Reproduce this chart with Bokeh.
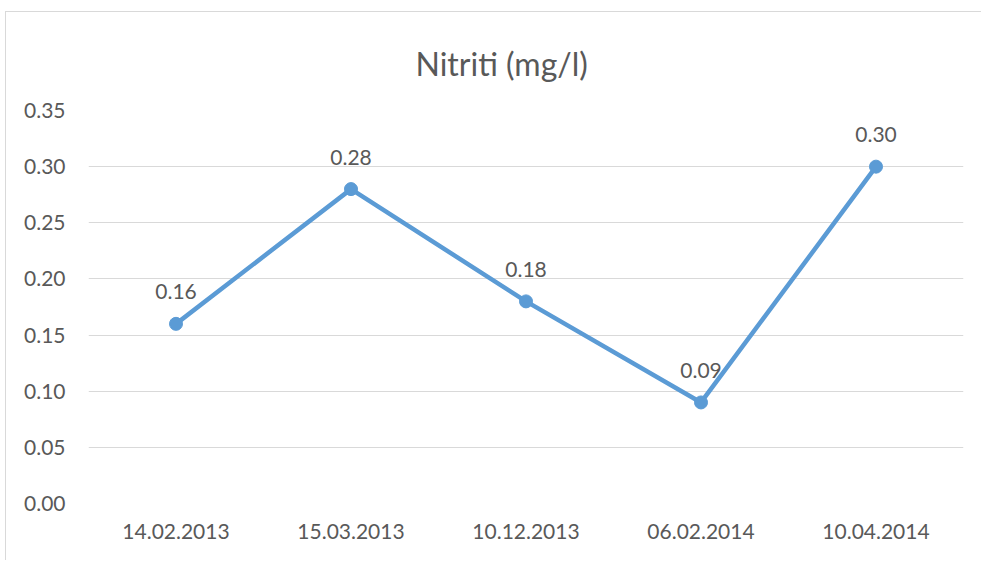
from bokeh.plotting import figure
from bokeh.models import Range1d, FactorRange, ColumnDataSource, LabelSet, FixedTicker, NumeralTickFormatter
from bokeh.core.properties import value
from bokeh.embed import file_html
from bokeh.resources import INLINE

title_text = "Nitriti (mg/l)"
dates = ["14.02.2013", "15.03.2013", "10.12.2013", "06.02.2014", "10.04.2014"]
values = [0.16, 0.28, 0.18, 0.09, 0.30]
labels = ["0.16", "0.28", "0.18", "0.09", "0.30"]
y_ticks = [0.0, 0.05, 0.10, 0.15, 0.20, 0.25, 0.30, 0.35]

FONT = "Lato"
TXT = "#595959"
BLUE = "#5b9bd5"
GRID = "#d9d9d9"

src = ColumnDataSource(dict(x=dates, y=values, lab=labels))

p = figure(width=976, height=549, x_range=FactorRange(*dates), y_range=Range1d(0, 0.35),
           output_backend="svg", toolbar_location=None, title=title_text,
           min_border_left=82, min_border_right=19, min_border_top=98, min_border_bottom=58)
p.styles = {"margin-left": "5px", "margin-top": "11px",
            "border-left": "1px solid #d9d9d9", "border-top": "1px solid #d9d9d9"}
p.outline_line_color = None
p.background_fill_color = "white"
p.border_fill_color = "white"

p.title.align = "left"
p.title.offset = 327
p.title.text_font = FONT
p.title.text_font_size = "32px"
p.title.text_font_style = "normal"
p.title.text_color = TXT
p.title.standoff = 56

p.line("x", "y", source=src, line_color=BLUE, line_width=4.5)
p.scatter("x", "y", source=src, size=13, fill_color=BLUE, line_color=BLUE)

ls = LabelSet(x="x", y="y", text="lab", source=src, text_align="center", text_baseline="middle",
              y_offset=32, text_font=value(FONT), text_font_size=value("21px"), text_color=value(TXT))
p.add_layout(ls)

p.yaxis.ticker = FixedTicker(ticks=y_ticks)
p.yaxis.formatter = NumeralTickFormatter(format="0.00")
for ax in (p.xaxis[0], p.yaxis[0]):
    ax.axis_line_color = None
    ax.major_tick_line_color = None
    ax.minor_tick_line_color = None
    ax.major_tick_out = 0
    ax.major_tick_in = 0
    ax.major_label_text_font = FONT
    ax.major_label_text_font_size = "21px"
    ax.major_label_text_color = TXT
p.yaxis.major_label_standoff = 23
p.xaxis.major_label_standoff = 20

p.xgrid.grid_line_color = None
p.ygrid.grid_line_color = GRID
p.ygrid.grid_line_width = 1

open("out.html", "w").write(file_html(p, INLINE))
